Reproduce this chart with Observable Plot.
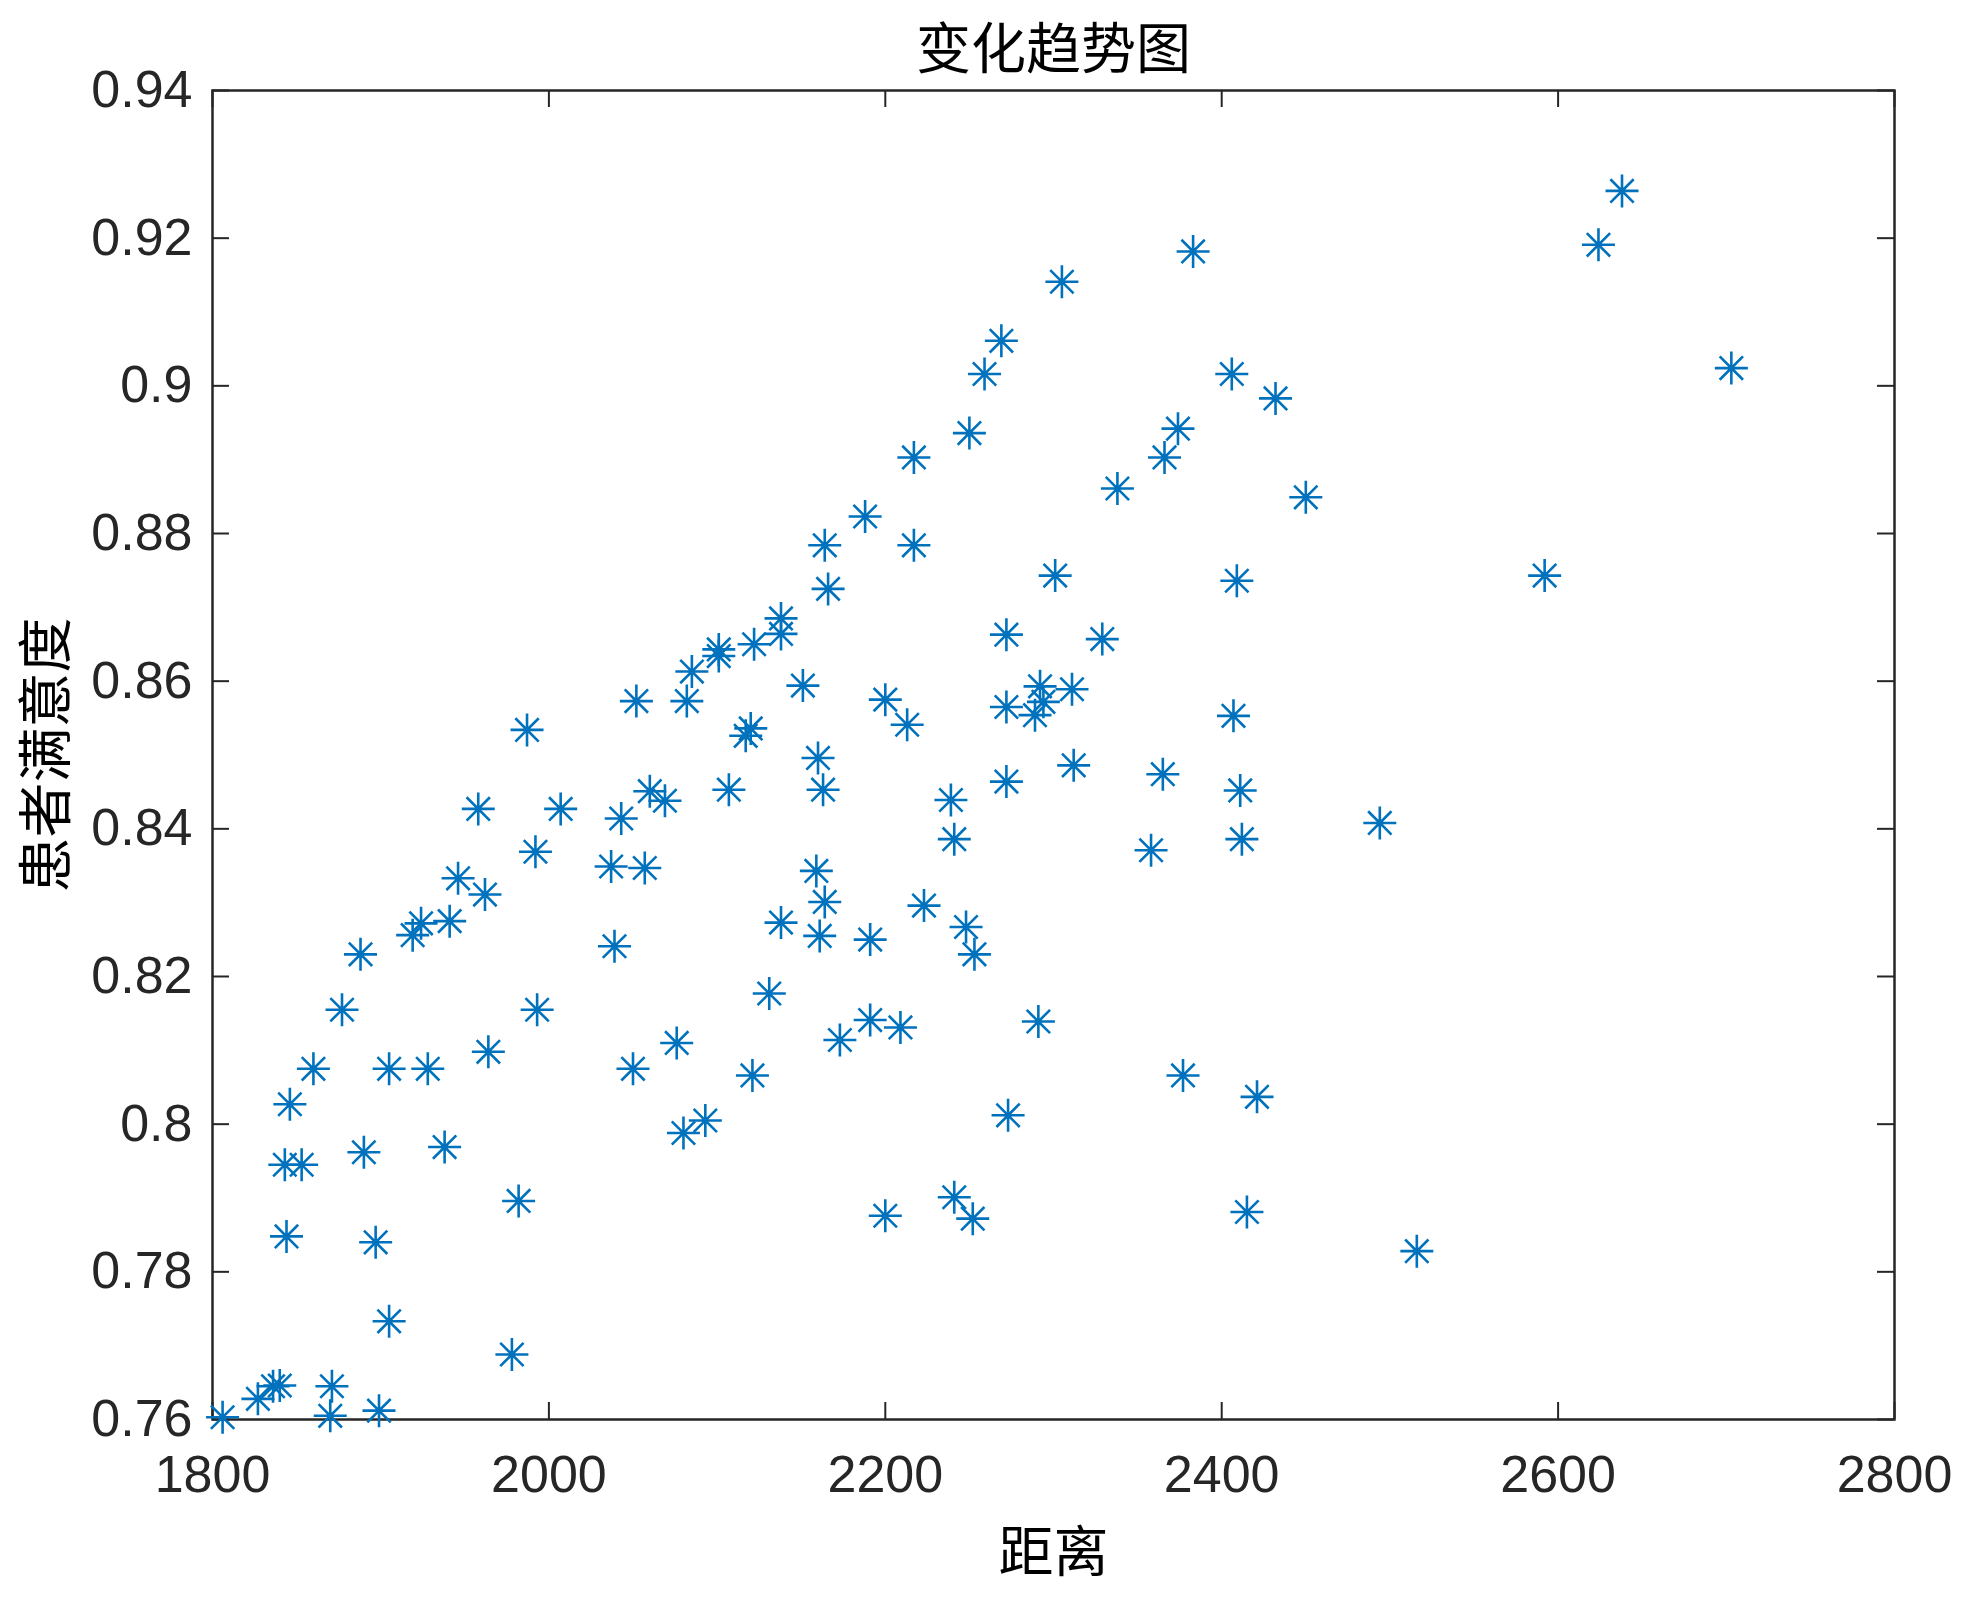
<!DOCTYPE html>
<html>
<head>
<meta charset="utf-8">
<script src="https://cdn.jsdelivr.net/npm/d3@7"></script>
<script src="https://cdn.jsdelivr.net/npm/@observablehq/plot@0.6"></script>
<style>
  html, body { margin: 0; padding: 0; background: #ffffff; }
  #chart { width: 1969px; height: 1602px; }
</style>
</head>
<body>
<div id="chart"></div>
<script>
// ---- data ----
const distance = [
  1806, 1827, 1836, 1840, 1871, 1870, 1899, 1905, 1978, 1897,
  1844, 1982, 1843, 1853, 1890, 1938, 1846, 1860, 1905, 1928,
  1964, 1993, 1877, 1888, 1919, 1924, 1941, 1962, 1946, 1958,
  1992, 1987, 2007, 2037, 2039, 2043, 2057, 2060, 2069, 2052,
  2050, 2076, 2080, 2093, 2082, 2085, 2101, 2101, 2107, 2117,
  2120, 2122, 2138, 2138, 2121, 2131, 2138, 2151, 2160, 2159,
  2161, 2163, 2164, 2164, 2166, 2173, 2188, 2191, 2191, 2200,
  2200, 2209, 2213, 2217, 2217, 2223, 2239, 2241, 2241, 2248,
  2250, 2252, 2253, 2259, 2269, 2272, 2272, 2272, 2273, 2289,
  2292, 2294, 2291, 2301, 2305, 2311, 2312, 2329, 2338, 2358,
  2365, 2366, 2374, 2377, 2383, 2406, 2407, 2409, 2411, 2412,
  2415, 2421, 2432, 2450, 2494, 2516, 2592, 2624, 2638, 2703
];
const satisfaction = [
  0.7603, 0.7628, 0.7645, 0.7646, 0.7645, 0.7605, 0.7612, 0.7733, 0.7688, 0.7840,
  0.7848, 0.7896, 0.7945, 0.7945, 0.7962, 0.7969, 0.8027, 0.8075, 0.8075, 0.8075,
  0.8098, 0.8155, 0.8155, 0.8230, 0.8256, 0.8272, 0.8275, 0.8311, 0.8333, 0.8427,
  0.8369, 0.8534, 0.8427, 0.8349, 0.8241, 0.8414, 0.8347, 0.8451, 0.8438, 0.8573,
  0.8075, 0.8110, 0.7988, 0.8005, 0.8573, 0.8613, 0.8643, 0.8634, 0.8453, 0.8526,
  0.8536, 0.8650, 0.8685, 0.8664, 0.8066, 0.8177, 0.8273, 0.8594, 0.8496, 0.8343,
  0.8255, 0.8453, 0.8301, 0.8784, 0.8725, 0.8114, 0.8823, 0.8141, 0.8250, 0.7876,
  0.8575, 0.8131, 0.8541, 0.8903, 0.8784, 0.8296, 0.8439, 0.8386, 0.7901, 0.8267,
  0.8936, 0.7872, 0.8230, 0.9016, 0.9061, 0.8565, 0.8663, 0.8464, 0.8012, 0.8554,
  0.8593, 0.8572, 0.8139, 0.8743, 0.9141, 0.8589, 0.8486, 0.8657, 0.8861, 0.8371,
  0.8474, 0.8903, 0.8942, 0.8066, 0.9182, 0.9016, 0.8553, 0.8736, 0.8452, 0.8386,
  0.7881, 0.8037, 0.8983, 0.8849, 0.8408, 0.7828, 0.8743, 0.9191, 0.9264, 0.9024
];
const xTicks = [1800, 2000, 2200, 2400, 2600, 2800];
const yTicks = [0.76, 0.78, 0.80, 0.82, 0.84, 0.86, 0.88, 0.90, 0.92, 0.94];
const xDomain = [1800, 2800];
const yDomain = [0.76, 0.94];
const titleText = "变化趋势图";
const xLabelText = "距离";
const yLabelText = "患者满意度";

// ---- layout / style ----
const W = 1969, H = 1602;
const mL = 212, mR = 75, mT = 90, mB = 183;
const frameW = W - mL - mR, frameH = H - mT - mB;
const tickLen = 17;
const axisColor = "#262626";
const markerColor = "#0072BD";
const latin = "'Liberation Sans', Arial, Helvetica, sans-serif";
const cjk = "'Noto Sans CJK SC', 'Noto Sans', sans-serif";

const rows = distance.map((d, i) => ({distance: d, satisfaction: satisfaction[i]}));

// MATLAB-style '*' marker: four crossed strokes
const asterisk = {
  draw(ctx, size) {
    const r = Math.sqrt(size / Math.PI);
    const d = r * Math.SQRT1_2;
    ctx.moveTo(0, -r); ctx.lineTo(0, r);
    ctx.moveTo(-r, 0); ctx.lineTo(r, 0);
    ctx.moveTo(-d, -d); ctx.lineTo(d, d);
    ctx.moveTo(-d, d); ctx.lineTo(d, -d);
  }
};

const chart = Plot.plot({
  width: W,
  height: H,
  marginLeft: mL,
  marginRight: mR,
  marginTop: mT,
  marginBottom: mB,
  style: {background: "#ffffff", color: axisColor, fontFamily: latin, overflow: "visible"},
  x: {domain: xDomain},
  y: {domain: yDomain},
  marks: [
    Plot.axisX(xTicks, {tickSize: 0, tickPadding: 36, fontSize: 52, fontFamily: latin, fill: axisColor, tickFormat: d => String(d), label: null}),
    Plot.axisY(yTicks, {tickSize: 0, tickPadding: 20, fontSize: 52, fontFamily: latin, fill: axisColor, tickFormat: d => String(d), label: null}),
    // inward ticks on all four sides (box on)
    Plot.ruleX(xTicks, {x: d => d, insetTop: frameH - tickLen, stroke: axisColor, strokeWidth: 2}),
    Plot.ruleX(xTicks, {x: d => d, insetBottom: frameH - tickLen, stroke: axisColor, strokeWidth: 2}),
    Plot.ruleY(yTicks, {y: d => d, insetRight: frameW - tickLen, stroke: axisColor, strokeWidth: 2}),
    Plot.ruleY(yTicks, {y: d => d, insetLeft: frameW - tickLen, stroke: axisColor, strokeWidth: 2}),
    Plot.frame({stroke: axisColor, strokeWidth: 2.5}),
    Plot.dot(rows, {x: "distance", y: "satisfaction", r: 16.5, symbol: asterisk, stroke: markerColor, strokeWidth: 2.6, fill: "none"}),
    Plot.text([titleText], {text: d => d, frameAnchor: "top", lineAnchor: "middle", dy: -40, fontSize: 55, fontFamily: cjk, fill: "#000000"}),
    Plot.text([xLabelText], {text: d => d, frameAnchor: "bottom", lineAnchor: "middle", dy: 134, fontSize: 55, fontFamily: cjk, fill: "#000000"}),
    Plot.text([yLabelText], {text: d => d, frameAnchor: "left", textAnchor: "middle", lineAnchor: "middle", dx: -165, rotate: -90, fontSize: 55, fontFamily: cjk, fill: "#000000"})
  ]
});
document.getElementById("chart").appendChild(chart);
</script>
</body>
</html>
